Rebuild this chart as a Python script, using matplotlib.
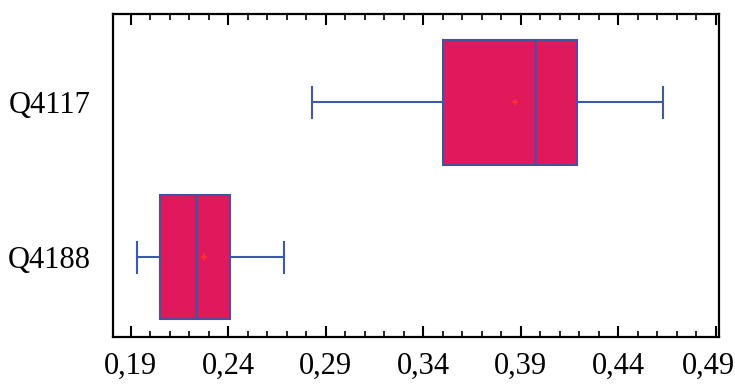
import numpy as np
import matplotlib.pyplot as plt
from matplotlib.ticker import MultipleLocator, FuncFormatter
from matplotlib.transforms import ScaledTranslation

plt.rcParams['font.family'] = ['Liberation Serif', 'DejaVu Serif']

# box plot summary
labels = ['Q4188', 'Q4117']
whislo = [0.1931, 0.2832]
q1 = [0.2052, 0.3501]
med = [0.2233, 0.3974]
q3 = [0.2409, 0.4189]
whishi = [0.2684, 0.4626]
means = [0.2274, 0.387]
xticks = [0.19, 0.24, 0.29, 0.34, 0.39, 0.44, 0.49]

stats = []
for i in range(len(labels)):
    stats.append(dict(label=labels[i], whislo=whislo[i], q1=q1[i], med=med[i],
                      q3=q3[i], whishi=whishi[i], mean=means[i], fliers=[]))

fig = plt.figure(figsize=(7.35, 3.84), dpi=100)
ax = fig.add_axes([0.1537, 0.1224, 0.8239, 0.8411])

edge = '#4a4fa0'
ax.bxp(stats, positions=[1, 2], vert=False, widths=0.806, patch_artist=True,
       showmeans=True, showfliers=False,
       boxprops=dict(facecolor='#e0195c', edgecolor=edge, linewidth=1.5),
       medianprops=dict(color=edge, linewidth=1.8),
       whiskerprops=dict(color='#3d5aa8', linewidth=1.5),
       capprops=dict(color='#3d5aa8', linewidth=1.5),
       capwidths=0.2,
       meanprops=dict(marker='+', markeredgecolor='#ff3030', markersize=5,
                      markeredgewidth=1.2))

ax.set_xlim(0.181, 0.4913)
ax.set_ylim(0.484, 2.568)
ax.set_xticks(xticks)
ax.xaxis.set_minor_locator(MultipleLocator(0.01))
ax.xaxis.set_major_formatter(FuncFormatter(lambda v, p: f'{v:.2f}'.replace('.', ',')))
ax.tick_params(axis='x', which='both', direction='in', top=True, labelsize=22, pad=11)
ax.tick_params(axis='x', which='major', length=8, width=1.5)
ax.tick_params(axis='x', which='minor', length=4, width=1.2)
ax.tick_params(axis='y', length=0, labelsize=22, pad=16)
for s in ax.spines.values():
    s.set_linewidth(1.6)

# last label sits against the right edge in the original
last = ax.get_xticklabels()[-1]
last.set_transform(last.get_transform() + ScaledTranslation(-8 / 100, 0, fig.dpi_scale_trans))

fig.savefig('out.png', dpi=100)
